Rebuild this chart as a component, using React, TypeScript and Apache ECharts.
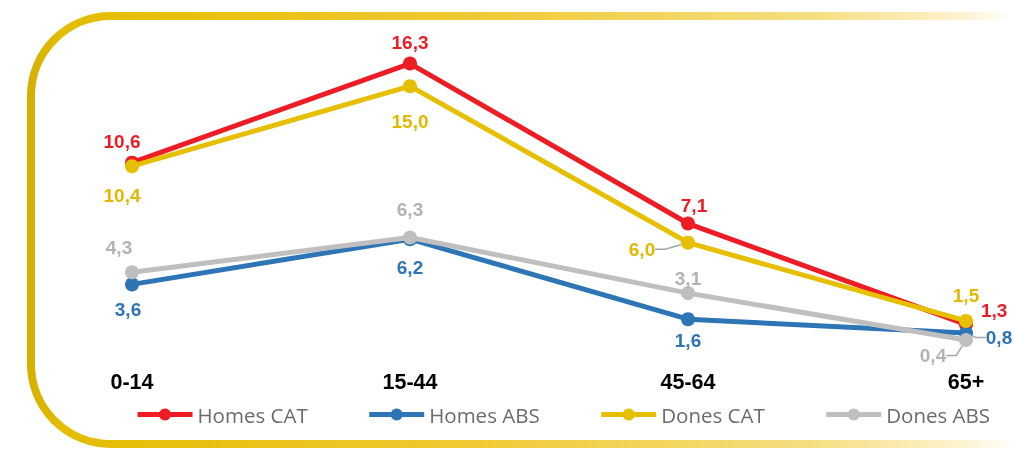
import React, { useEffect, useRef } from "react";
import * as echarts from "echarts";

const categories = ["0-14", "15-44", "45-64", "65+"];
const seriesNames = ["Homes CAT", "Homes ABS", "Dones CAT", "Dones ABS"];
const homesCAT = [10.6, 16.3, 7.1, 1.3];
const homesABS = [3.6, 6.2, 1.6, 0.8];
const donesCAT = [10.4, 15.0, 6.0, 1.5];
const donesABS = [4.3, 6.3, 3.1, 0.4];

const colors = ["#ee1c25", "#2e75b6", "#e6c000", "#bfbfbf"];
const labelColors = ["#ee1c25", "#2e75b6", "#e2b900", "#b3b3b3"];

// label position per series/point
const labelPos: string[][] = [
  ["top", "top", "top", "right"],
  ["bottom", "bottom", "bottom", "top"],
  ["bottom", "bottom", "top", "top"],
  ["top", "top", "top", "top"],
];
// pixel shift of each label [dx, dy]
const labelShift: [number, number][][] = [
  [[-10, 0], [0, 0], [6, 3], [-2, -14]],
  [[-4, 4], [0, 7], [0, 0], [33, 26]],
  [[-10, 8], [0, 14], [-46, 28], [0, -4]],
  [[-13, -3], [0, -6], [0, 7], [-33, 37]],
];
// labels tied to their point by a leader line
const leaderLabels = ["1-3", "2-2", "3-3"];

const fmt = (v: number) => v.toFixed(1).replace(".", ",");
const FONT = "'Liberation Sans', Arial, sans-serif";

export default function App() {
  const ref = useRef<HTMLDivElement>(null);
  useEffect(() => {
    if (!ref.current) return;
    const chart = echarts.init(ref.current, undefined, { renderer: "svg" });
    const allData = [homesCAT, homesABS, donesCAT, donesABS];
    const series = allData.map((vals, si) => ({
      name: seriesNames[si],
      type: "line",
      data: vals.map((v, i) => {
        const leader = leaderLabels.indexOf(si + "-" + i) >= 0;
        return {
          value: v,
          label: { position: labelPos[si][i], distance: labelPos[si][i] === "right" ? 10 : 5 },
          labelLine: {
            show: leader,
            length2: 10,
            smooth: false,
            lineStyle: { color: "#a6a6a6", width: 1.5 },
          },
        };
      }),
      symbol: "circle",
      symbolSize: 14,
      lineStyle: { width: 5, color: colors[si] },
      itemStyle: { color: colors[si] },
      label: {
        show: true,
        formatter: (p: any) => fmt(p.value),
        color: labelColors[si],
        fontFamily: FONT,
        fontWeight: "bold",
        fontSize: 19,
      },
      labelLayout: (params: any) => {
        const s = labelShift[params.seriesIndex][params.dataIndex];
        return { dx: s[0], dy: s[1] };
      },
      labelLine: { show: false },
      z: 2 + si,
    }));
    chart.setOption({
      animation: false,
      color: colors,
      grid: { left: 132, right: 48, top: 34, bottom: 103, containLabel: false },
      xAxis: {
        type: "category",
        data: categories,
        boundaryGap: false,
        axisLine: { show: false },
        axisTick: { show: false },
        axisLabel: {
          color: "#000",
          fontFamily: FONT,
          fontWeight: "bold",
          fontSize: 21.5,
          margin: 24,
        },
      },
      yAxis: {
        type: "value",
        min: 0,
        max: 18,
        show: false,
        splitLine: { show: false },
      },
      legend: {
        left: 130,
        top: 399,
        itemWidth: 55,
        itemHeight: 15,
        itemGap: 59,
        lineStyle: { width: 5 },
        textStyle: { color: "#6b6b6b", fontFamily: "'Open Sans', sans-serif", fontSize: 20.5 },
        data: seriesNames,
      },
      graphic: [
        {
          type: "rect",
          silent: true,
          shape: { x: 31, y: 16, width: 1300, height: 428, r: 80 },
          style: {
            fill: "none",
            lineWidth: 8,
            stroke: new echarts.graphic.LinearGradient(
              0,
              0,
              1014,
              0,
              [
                { offset: 0, color: "#c8a300" },
                { offset: 0.06, color: "#e3bd00" },
                { offset: 0.45, color: "#efc930" },
                { offset: 0.8, color: "#f6de80" },
                { offset: 0.95, color: "#fdf3cf" },
                { offset: 1, color: "#ffffff" },
              ],
              true
            ),
          },
          z: 0,
        },
      ],
      series,
    });
    return () => chart.dispose();
  }, []);
  return <div ref={ref} style={{ position: "fixed", left: 0, top: 0, width: 1014, height: 450 }} />;
}
